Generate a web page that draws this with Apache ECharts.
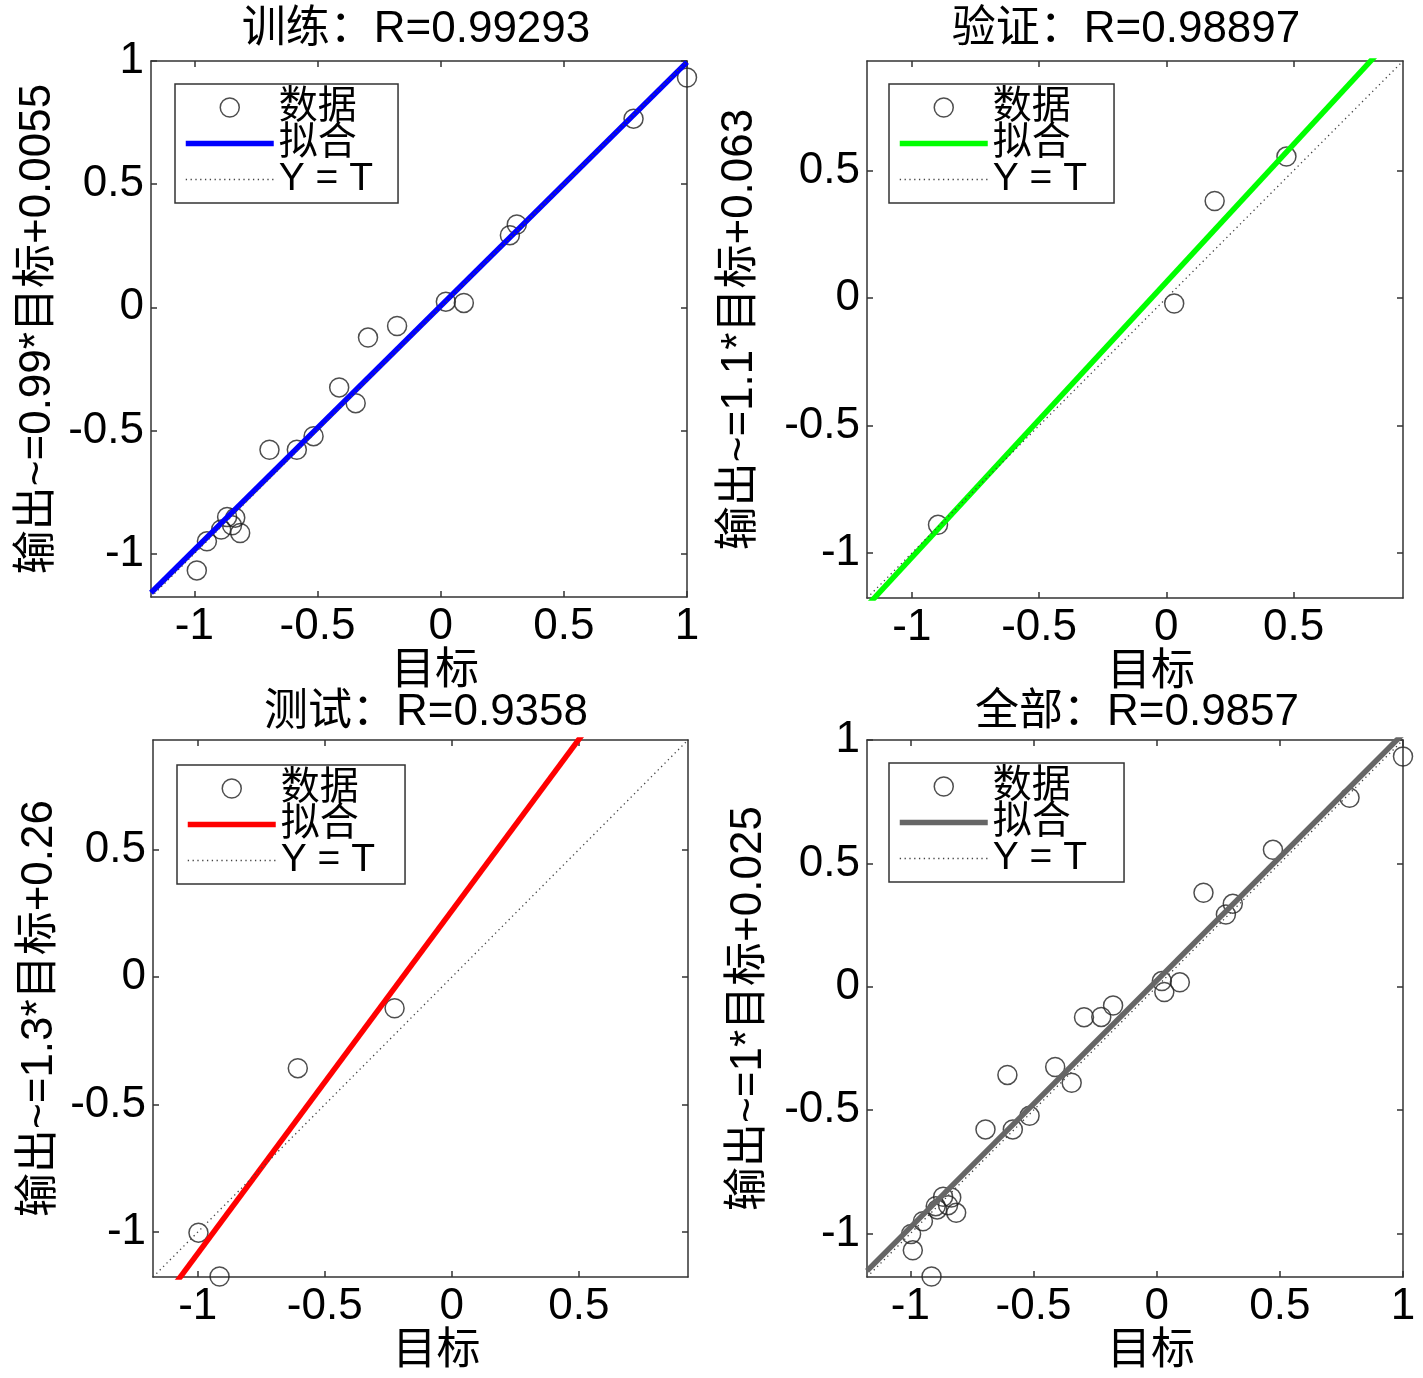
<!DOCTYPE html>
<html>
<head>
<meta charset="utf-8">
<script src="https://cdn.jsdelivr.net/npm/echarts@6/dist/echarts.min.js"></script>
<style>
html, body { margin: 0; padding: 0; background: #ffffff; }
#chart { width: 1423px; height: 1378px; }
</style>
</head>
<body>
<div id="chart"></div>
<script>
// ---------------- data ----------------
const trainTargets = [-0.99, -0.949, -0.891, -0.867, -0.834, -0.847, -0.814, -0.695, -0.584, -0.516, -0.412, -0.345, -0.295, -0.177, 0.021, 0.094, 0.281, 0.309, 0.783, 1.0];
const trainOutputs = [-1.068, -0.950, -0.902, -0.851, -0.854, -0.885, -0.916, -0.578, -0.578, -0.523, -0.325, -0.389, -0.123, -0.076, 0.023, 0.018, 0.293, 0.336, 0.766, 0.933];

const valTargets = [-0.897, 0.031, 0.19, 0.472];
const valOutputs = [-0.889, -0.021, 0.381, 0.555];

const testTargets = [-0.997, -0.914, -0.606, -0.225];
const testOutputs = [-1.002, -1.174, -0.357, -0.122];

const panelTitles = ['训练：R=0.99293', '验证：R=0.98897', '测试：R=0.9358', '全部：R=0.9857'];
const yAxisNames = ['输出~=0.99*目标+0.0055', '输出~=1.1*目标+0.063', '输出~=1.3*目标+0.26', '输出~=1*目标+0.025'];
const xAxisName = '目标';
const legendNames = ['数据', '拟合', 'Y = T'];

const fitSlopes = [0.99, 1.08, 1.344, 1.0];
const fitIntercepts = [0.0055, 0.063, 0.26, 0.025];

const axisMins = [-1.176, -1.176, -1.176, -1.176];
const axisMaxs = [1.0, 0.93, 0.93, 1.0];
const tickValues = [-1, -0.5, 0, 0.5, 1];

// ---------------- styles / layout ----------------
const FONT = "'Liberation Sans', Arial, 'Noto Sans CJK SC', sans-serif";
const fitColors = ['#0000ff', '#00ff00', '#ff0000', '#666666'];
const grids = [
  { left: 151, top: 61, width: 536, height: 536 },
  { left: 867, top: 61, width: 536, height: 537 },
  { left: 153, top: 740, width: 535, height: 537 },
  { left: 867, top: 740, width: 536, height: 537 }
];
const titlePos = [
  { x: 416, y: 8 }, { x: 1126, y: 8 }, { x: 426, y: 691 }, { x: 1137, y: 691 }
];
const legendPos = [
  { left: 175, top: 84, padR: 25 },
  { left: 889, top: 84, padR: 27 },
  { left: 177, top: 765, padR: 30 },
  { left: 889, top: 763, padR: 37 }
];
const yNameGaps = [91, 105, 91, 96];
const xNameGaps = [48, 48, 51, 51];

const boxLine = { color: '#333333', width: 1.5 };
const hidden = 'rgba(0,0,0,0)';

function zip(a, b) { return a.map((v, i) => [v, b[i]]); }

const panelPoints = [
  zip(trainTargets, trainOutputs),
  zip(valTargets, valOutputs),
  zip(testTargets, testOutputs),
  zip(trainTargets.concat(valTargets, testTargets), trainOutputs.concat(valOutputs, testOutputs))
];

const option = {
  backgroundColor: '#ffffff',
  animation: false,
  title: [], grid: [], xAxis: [], yAxis: [], legend: [], series: []
};

for (let i = 0; i < 4; i++) {
  const lo = axisMins[i], hi = axisMaxs[i];
  const ticks = tickValues.filter(v => v >= lo && v <= hi);
  option.title.push({
    text: panelTitles[i], left: titlePos[i].x, top: titlePos[i].y, textAlign: 'center', padding: 0,
    textStyle: { fontSize: 44, fontWeight: 'normal', color: '#000', fontFamily: FONT, lineHeight: 44 }
  });
  option.grid.push(Object.assign({ containLabel: false, outerBoundsMode: 'none' }, grids[i]));
  const common = {
    type: 'value', gridIndex: i, min: lo, max: hi,
    axisLine: { show: true, onZero: false, lineStyle: boxLine },
    axisTick: { show: true, inside: true, length: 6, customValues: ticks, lineStyle: boxLine },
    splitLine: { show: false }
  };
  option.xAxis.push(Object.assign({}, common, {
    position: 'bottom',
    axisLabel: { show: true, customValues: ticks, margin: 8, fontSize: 44, color: '#000', fontFamily: FONT, lineHeight: 44 },
    name: xAxisName, nameLocation: 'middle', nameGap: xNameGaps[i],
    nameTextStyle: { fontSize: 44, color: '#000', fontFamily: FONT, lineHeight: 44, padding: [0, 0, 0, 32] }
  }));
  option.xAxis.push(Object.assign({}, common, { position: 'top', axisLabel: { show: false } }));
  option.yAxis.push(Object.assign({}, common, {
    position: 'left',
    axisLabel: { show: true, customValues: ticks, margin: 7, fontSize: 44, color: '#000', fontFamily: FONT, lineHeight: 44 },
    name: yAxisNames[i], nameLocation: 'middle', nameGap: yNameGaps[i],
    nameTextStyle: { fontSize: 44, color: '#000', fontFamily: FONT, lineHeight: 44 }
  }));
  option.yAxis.push(Object.assign({}, common, { position: 'right', axisLabel: { show: false } }));

  const a = fitSlopes[i], b = fitIntercepts[i];
  option.series.push({
    type: 'scatter', name: legendNames[0], xAxisIndex: 2 * i, yAxisIndex: 2 * i,
    data: panelPoints[i], symbol: 'circle', symbolSize: 19,
    itemStyle: { color: hidden, borderColor: '#222222', borderWidth: 1.5 },
    emphasis: { disabled: true }, z: 2
  });
  option.series.push({
    type: 'line', name: legendNames[1], xAxisIndex: 2 * i, yAxisIndex: 2 * i,
    data: [[lo, a * lo + b], [hi, a * hi + b]], symbol: 'none', showSymbol: false,
    lineStyle: { color: fitColors[i], width: 5.5 }, itemStyle: { color: fitColors[i] },
    clip: true, z: 3
  });
  option.series.push({
    type: 'line', name: legendNames[2], xAxisIndex: 2 * i, yAxisIndex: 2 * i,
    data: [[lo, lo], [hi, hi]], symbol: 'none', showSymbol: false,
    lineStyle: { color: '#444444', width: 1.3, type: [1.3, 3.5] }, itemStyle: { color: '#444444' },
    clip: true, z: 4
  });

  option.legend.push({
    orient: 'vertical', left: legendPos[i].left, top: legendPos[i].top,
    itemWidth: 88, itemHeight: 19, itemGap: -3,
    padding: [4, legendPos[i].padR, 4, 8],
    borderColor: '#333333', borderWidth: 1.5, backgroundColor: '#ffffff',
    selectedMode: false,
    textStyle: { fontSize: 39, lineHeight: 35, color: '#000', fontFamily: FONT },
    data: [
      { name: legendNames[0], icon: 'circle', itemStyle: { color: hidden, borderColor: '#222222', borderWidth: 1.5 } },
      { name: legendNames[1], itemStyle: { color: hidden, borderColor: hidden, borderWidth: 0 }, lineStyle: { color: fitColors[i], width: 5.5 } },
      { name: legendNames[2], itemStyle: { color: hidden, borderColor: hidden, borderWidth: 0 }, lineStyle: { color: '#444444', width: 1.3, type: [1.3, 3.5] } }
    ]
  });
}

const chart = echarts.init(document.getElementById('chart'), null, { renderer: 'canvas' });
chart.setOption(option);
</script>
</body>
</html>
